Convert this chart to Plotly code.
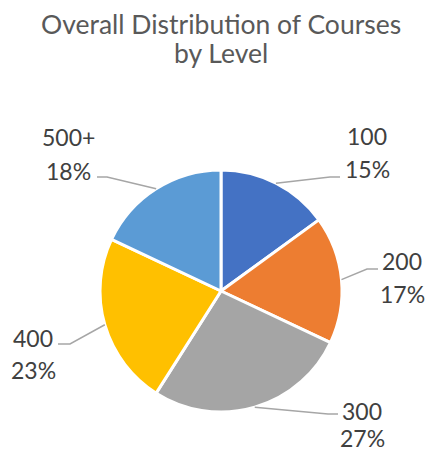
import math
import plotly.graph_objects as go

# course levels and share of courses (%)
levels = ['100', '200', '300', '400', '500+']
shares = [15, 17, 27, 23, 18]
colors = ['#4472C4', '#ED7D31', '#A5A5A5', '#FFC000', '#5B9BD5']
title_lines = ['Overall Distribution of Courses', 'by Level']

W, H = 426, 454
CX, CY, R = 221, 291, 121


def px(x, y):
    """pixel position -> paper coords"""
    return x / W, 1 - y / H


fig = go.Figure()
fig.add_trace(go.Pie(
    labels=levels, values=shares, sort=False, direction='clockwise',
    marker=dict(colors=colors, line=dict(color='white', width=3)),
    textinfo='none', hoverinfo='label+percent', showlegend=False,
    domain=dict(x=[(CX - R) / W, (CX + R) / W], y=[1 - (CY + R) / H, 1 - (CY - R) / H]),
))

# label placement: centre x, y of first line, y of second line (pixels)
label_pos = [(367, 137, 170), (402, 262, 295), (362, 412, 439), (33, 339, 371), (68, 138, 172)]
# leader line elbow and end (pixels)
elbows = [((330, 177), (340, 177)), ((367, 269), (378, 269)), ((328, 414), (338, 414)),
          ((70, 344), (58, 344)), ((107, 177), (97, 177))]

total = sum(shares)
cum = 0
shapes = []
annotations = []
lab_font = dict(family='Lato', size=23, color='#404040')
for i, (lv, v) in enumerate(zip(levels, shares)):
    mid = (cum + v / 2) / total * 2 * math.pi
    cum += v
    sx, sy = CX + R * math.sin(mid), CY - R * math.cos(mid)
    (ex, ey), (fx, fy) = elbows[i]
    p0, p1, p2 = px(sx, sy), px(ex, ey), px(fx, fy)
    shapes.append(dict(type='path', xref='paper', yref='paper',
                       path=f'M {p0[0]} {p0[1]} L {p1[0]} {p1[1]} L {p2[0]} {p2[1]}',
                       line=dict(color='#A6A6A6', width=1.5)))
    lx, l1, l2 = label_pos[i]
    for txt, yy in ((lv, l1), (f'{round(v / total * 100)}%', l2)):
        ax, ay = px(lx, yy - 1)
        annotations.append(dict(text=txt, x=ax, y=ay, xref='paper', yref='paper',
                                showarrow=False, xanchor='center', yanchor='middle',
                                font=lab_font))

for txt, yy in zip(title_lines, (25, 54)):
    ax, ay = px(221, yy - 1)
    annotations.append(dict(text=txt, x=ax, y=ay, xref='paper', yref='paper',
                            showarrow=False, xanchor='center', yanchor='middle',
                            font=dict(family='Lato', size=26.5, color='#595959')))

fig.update_layout(width=W, height=H, margin=dict(l=0, r=0, t=0, b=0),
                  paper_bgcolor='white', plot_bgcolor='white',
                  shapes=shapes, annotations=annotations)

fig.write_html("out.html", config=dict(displayModeBar=False),
               post_script="document.body.style.margin='0';document.body.style.overflow='hidden';")
